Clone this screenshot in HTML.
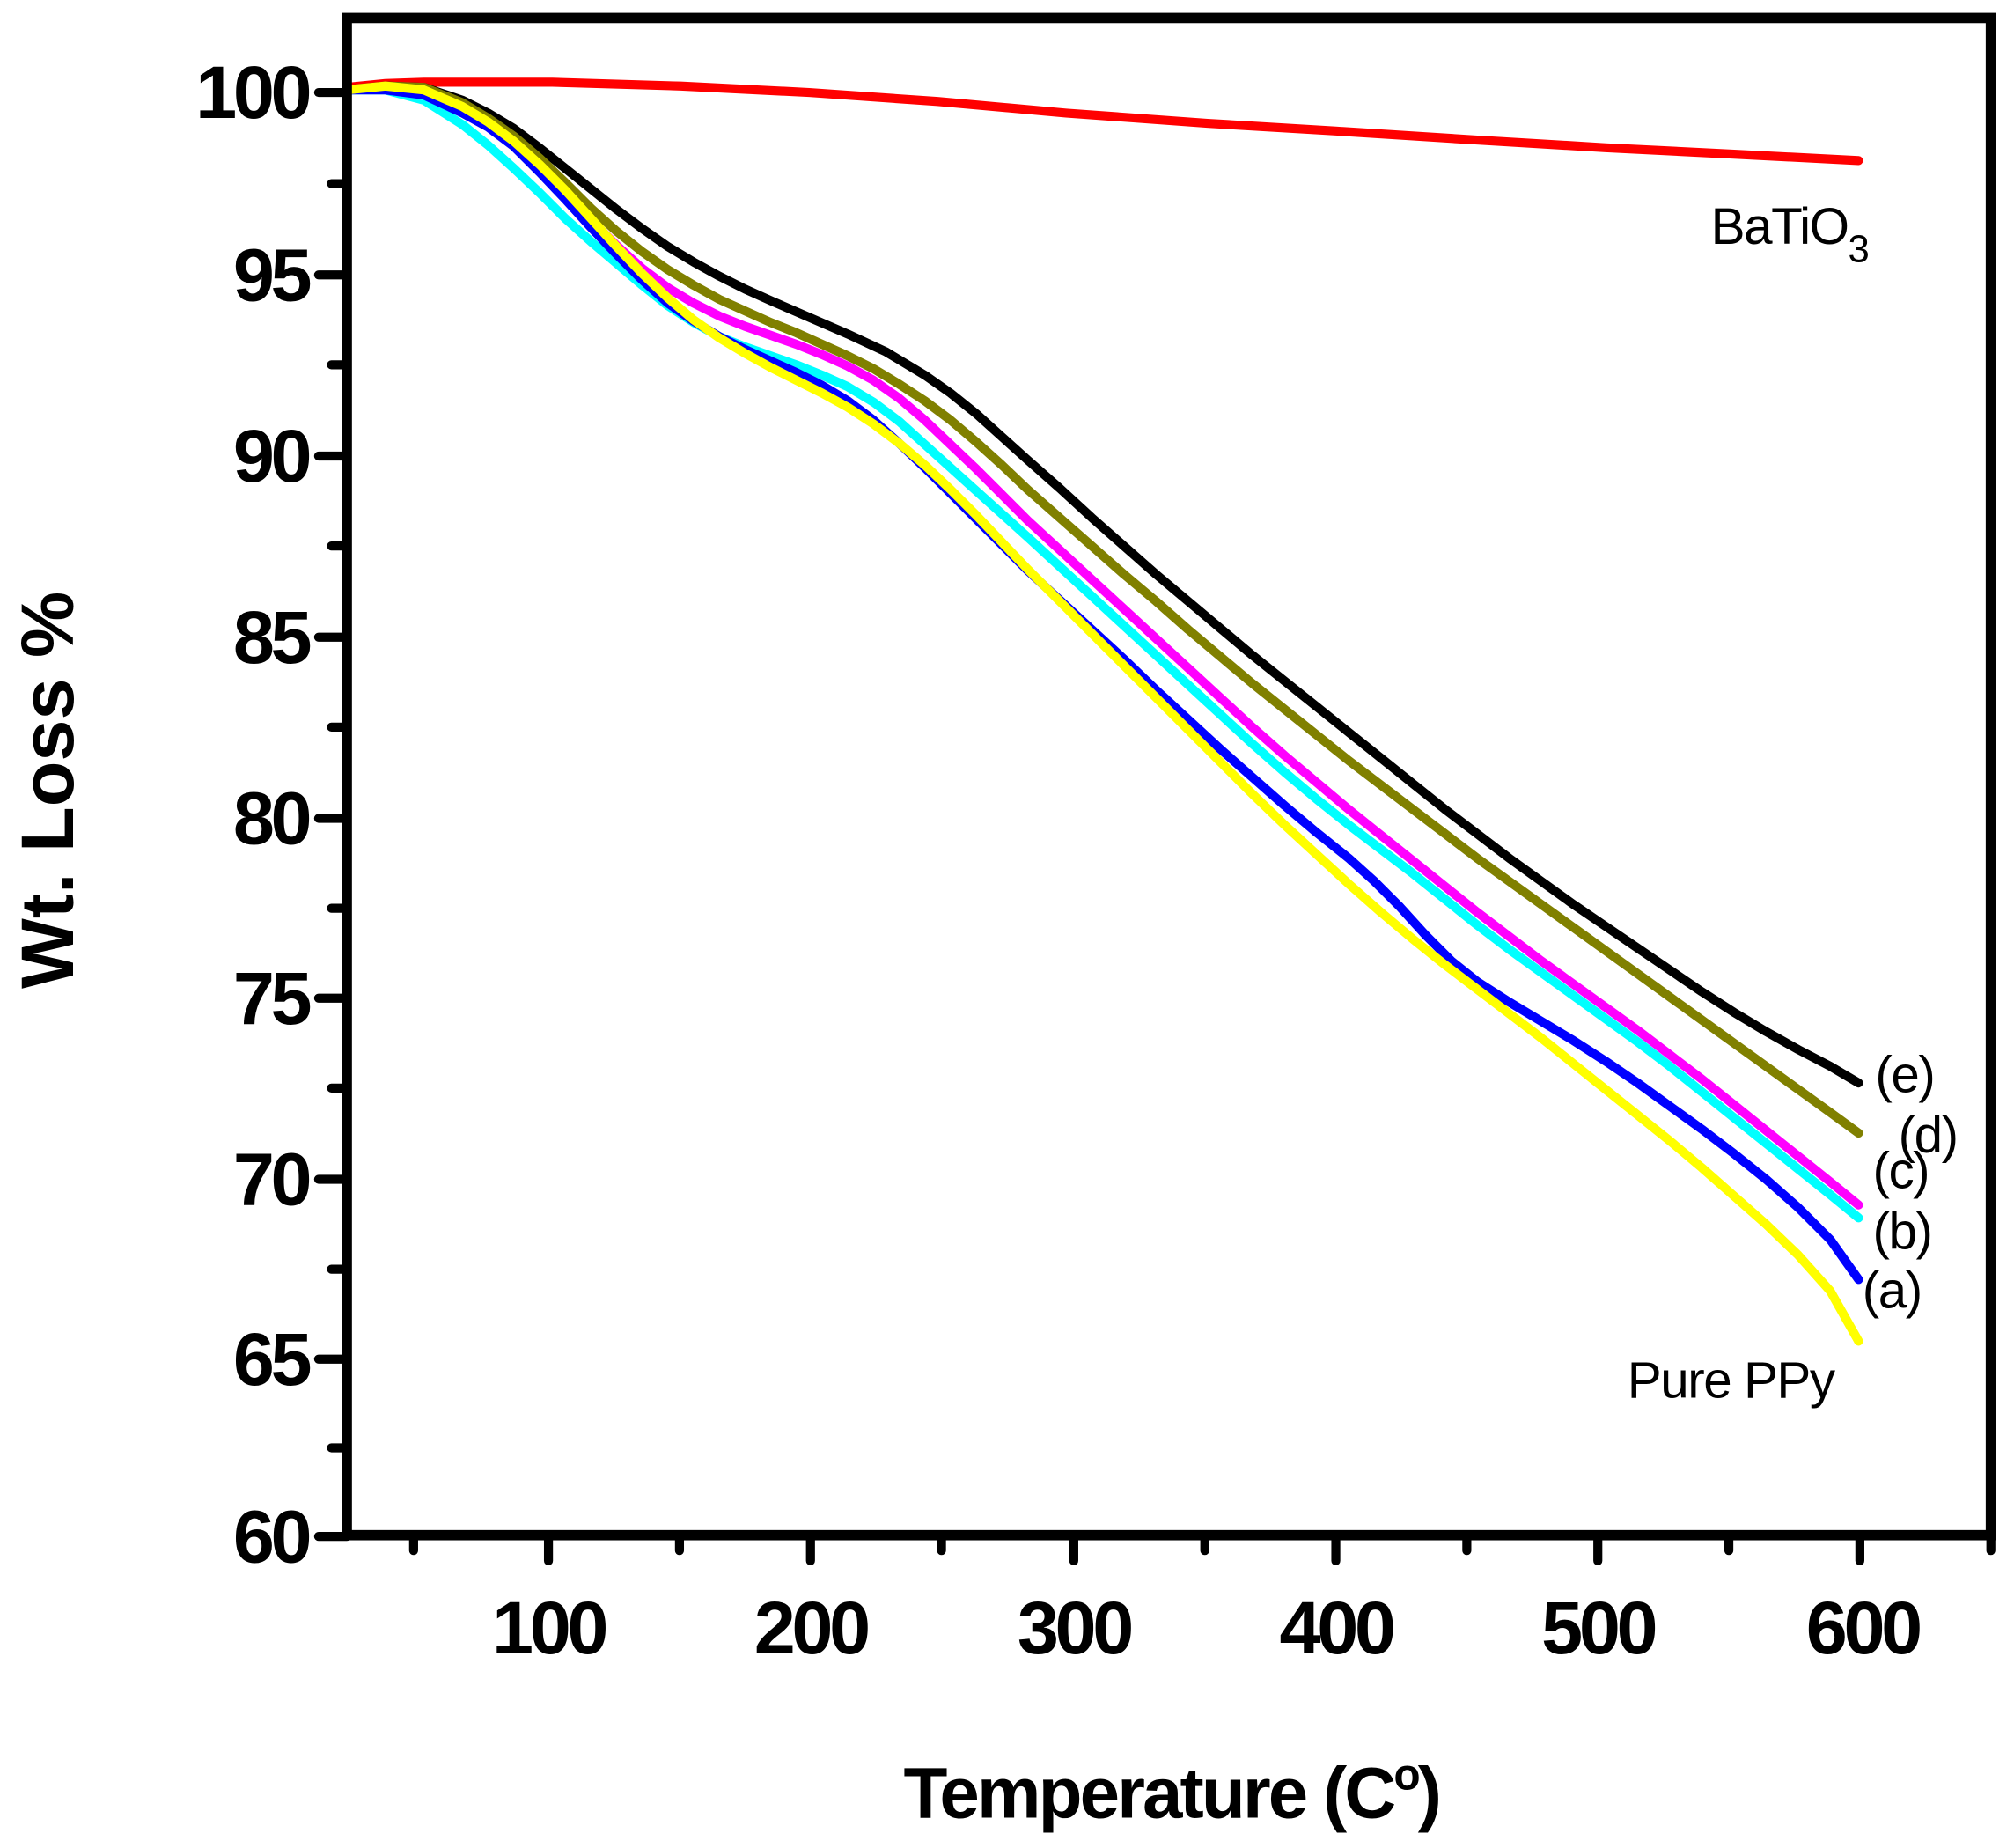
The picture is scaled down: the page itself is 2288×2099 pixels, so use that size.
<!DOCTYPE html>
<html><head><meta charset="utf-8"><style>html,body{margin:0;padding:0;background:#fff}svg{display:block}</style></head>
<body>
<svg width="2288" height="2099" viewBox="0 0 1568 1438.5" xmlns="http://www.w3.org/2000/svg" font-family="Liberation Sans, Arial, sans-serif">
<rect width="1568" height="1439" fill="#fff"/>
<g fill="none" stroke-linecap="round" stroke-linejoin="round" stroke-width="7">
<polyline stroke="#ff0000" points="270,68 300,65 330,64 430,64 530,67 630,72 730,79 830,88 940,96 1040,102 1150,109 1250,115 1350,120 1447,125"/>
<polyline stroke="#000" points="270,70 300,67 330,68 360,78 380,88 400,100 420,115 440,131 460,147 480,163 500,178 520,192 540,204 560,215 580,225 600,234 630,247 660,260 690,274 720,292 740,306 760,322 780,340 800,358 825,380 850,403 875,425 900,447 925,468 950,489 975,510 1000,530 1025,550 1050,570 1075,590 1100,610 1125,630 1150,649 1175,668 1200,686 1225,704 1250,721 1275,738 1300,755 1325,772 1350,788 1375,803 1400,817 1425,830 1447,843"/>
<polyline stroke="#808000" points="270,70 300,67 330,68 360,80 380,92 400,106 420,123 440,142 460,162 480,180 500,196 520,210 540,222 560,233 580,242 600,251 620,259 640,268 660,277 680,287 700,299 720,312 740,327 760,344 780,362 800,381 825,403 850,425 875,447 900,468 925,490 950,511 975,532 1000,552 1025,572 1050,592 1075,611 1100,630 1125,649 1150,668 1175,686 1200,704 1225,722 1250,740 1275,758 1300,776 1325,794 1350,812 1375,830 1400,848 1425,866 1447,882"/>
<polyline stroke="#ff00ff" points="270,70 300,69 330,71 360,84 380,96 400,111 420,130 440,150 460,171 480,191 500,209 520,224 540,236 560,246 580,254 600,261 620,268 640,276 660,285 680,296 700,310 720,327 740,346 760,365 780,385 800,405 825,428 850,451 875,474 900,497 925,520 950,543 975,566 1000,588 1025,609 1050,630 1075,650 1100,670 1125,690 1150,710 1175,729 1200,748 1225,766 1250,784 1275,802 1300,821 1325,840 1350,860 1375,880 1400,900 1425,920 1447,938"/>
<polyline stroke="#00ffff" points="270,70 300,70 330,78 360,97 380,113 400,131 420,150 440,170 460,188 480,205 500,222 520,238 540,251 560,262 580,270 600,277 620,284 640,292 660,301 680,313 700,328 720,346 740,364 760,382 780,400 800,418 825,441 850,464 875,487 900,510 925,533 950,556 975,579 1000,601 1025,622 1050,642 1075,661 1100,680 1125,700 1150,720 1175,739 1200,757 1225,775 1250,793 1275,811 1300,830 1325,850 1350,870 1375,890 1400,910 1425,930 1447,948"/>
<polyline stroke="#0000ff" points="270,70 300,70 330,74 360,88 380,99 400,114 420,134 440,155 460,177 480,198 500,218 520,236 540,250 560,262 580,272 600,281 620,290 640,300 660,312 680,327 700,345 720,364 740,384 760,404 780,424 800,444 825,467 850,490 875,513 900,537 925,560 950,583 975,605 1000,627 1025,648 1050,668 1070,686 1090,706 1110,728 1130,748 1150,764 1175,780 1200,795 1225,810 1250,826 1275,843 1300,861 1325,879 1350,898 1375,918 1400,940 1425,965 1447,996"/>
<polyline stroke="#ffff00" points="270,70 300,67 330,70 360,83 380,95 400,110 420,128 440,148 460,170 480,192 500,213 520,232 540,249 560,263 580,275 600,286 620,296 640,306 660,317 680,330 700,345 720,362 740,381 760,401 780,422 800,443 825,468 850,493 875,518 900,543 925,568 950,593 975,618 1000,642 1025,665 1050,688 1075,710 1100,731 1125,751 1150,770 1175,789 1200,808 1225,828 1250,848 1275,868 1300,888 1325,909 1350,931 1375,953 1400,977 1425,1005 1447,1044"/>
</g>
<g stroke="#000" stroke-linecap="round" fill="none">
<rect x="270" y="14" width="1280" height="1181" stroke-width="8"/>
<path stroke-width="7" d="M270,72h-22M270,214h-22M270,355h-22M270,496h-22M270,637h-22M270,777h-22M270,918h-22M270,1058h-22M270,1196h-22"/>
<path stroke-width="7" d="M270,143h-12M270,284h-12M270,425h-12M270,566h-12M270,707h-12M270,847h-12M270,988h-12M270,1127h-12"/>
<path stroke-width="7" d="M427,1195v20M631,1195v20M836,1195v20M1040,1195v20M1244,1195v20M1448,1195v20"/>
<path stroke-width="7" d="M322,1195v12M529,1195v12M733,1195v12M938,1195v12M1142,1195v12M1346,1195v12M1550,1195v12"/>
</g>
<g font-weight="bold" font-size="58" text-anchor="end" fill="#000" letter-spacing="-3">
<text x="240" y="92">100</text><text x="240" y="234">95</text><text x="240" y="375">90</text><text x="240" y="516">85</text><text x="240" y="657">80</text><text x="240" y="797">75</text><text x="240" y="938">70</text><text x="240" y="1078">65</text><text x="240" y="1216">60</text>
</g>
<g font-weight="bold" font-size="58" text-anchor="middle" fill="#000" letter-spacing="-3">
<text x="427" y="1287">100</text><text x="631" y="1287">200</text><text x="836" y="1287">300</text><text x="1040" y="1287">400</text><text x="1244" y="1287">500</text><text x="1450" y="1287">600</text>
</g>
<text x="912" y="1415" font-weight="bold" font-size="56" text-anchor="middle" letter-spacing="-2">Temperature  (C<tspan font-size="34" dy="-22">o</tspan><tspan dy="22">)</tspan></text>
<text transform="translate(57,615) rotate(-90)" font-weight="bold" font-size="58" text-anchor="middle">Wt. Loss %</text>
<g font-size="40" fill="#000" letter-spacing="-1">
<text x="1332" y="190">BaTiO<tspan font-size="30" dy="14">3</tspan></text>
<text x="1267" y="1088">Pure PPy</text>
<text x="1460" y="850">(e)</text>
<text x="1478" y="897">(d)</text>
<text x="1458" y="925">(c)</text>
<text x="1458" y="972">(b)</text>
<text x="1450" y="1018">(a)</text>
</g>
</svg>
</body></html>
